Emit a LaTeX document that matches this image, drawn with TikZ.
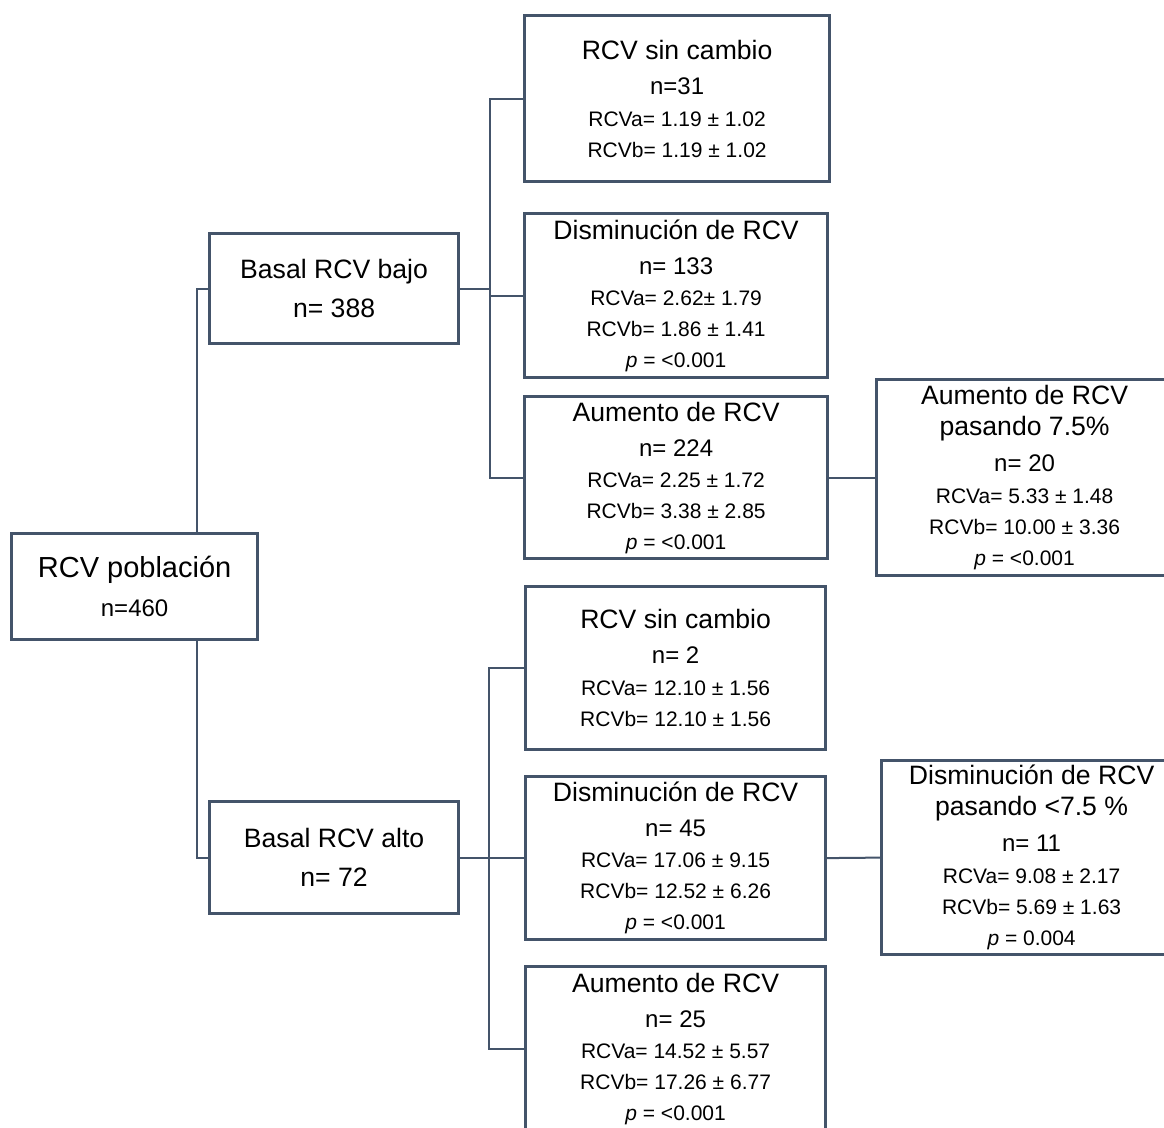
\documentclass[tikz,border=0pt]{standalone}
\usepackage{fontspec}
\setmainfont{Liberation Sans}
\definecolor{frame}{HTML}{44546A}
% type sizes for the three kinds of lines inside the boxes
\newcommand\ftitle{\fontsize{26.6}{31}\selectfont}
\newcommand\fcount{\fontsize{24}{31}\selectfont}
\newcommand\fstat{\fontsize{21}{31}\selectfont}
\begin{document}
\begin{tikzpicture}[x=1pt,y=-1pt,
  box/.style={draw=frame, line width=3.2pt, fill=white, rectangle,
    inner sep=0pt, anchor=north west, align=center, text=black,
    font=\fontsize{21}{31}\selectfont},
  headbox/.style={box, font=\fontsize{26.6}{39}\selectfont},
  conn/.style={draw=frame, line width=2pt}]
\path[use as bounding box, fill=white] (0,0) rectangle (1164,1127);
\clip (0,0) rectangle (1164,1127);

% root and the two baseline groups
\node[headbox, minimum width=246, minimum height=106] (root) at (10,532)
  {{\fontsize{29}{39}\selectfont RCV población}\\{\fcount n=460}};
\node[headbox, minimum width=249, minimum height=110] (bajo) at (208,232)
  {Basal RCV bajo\\n= 388};
\node[headbox, minimum width=249, minimum height=112] (alto) at (208,800)
  {Basal RCV alto\\n= 72};

% low baseline risk: outcomes
\node[box, minimum width=305, minimum height=166] (b1) at (523,14)
  {{\ftitle RCV sin cambio}\\[4pt]{\fcount n=31}\\[1pt]RCVa= 1.19 ± 1.02\\RCVb= 1.19 ± 1.02};
\node[box, minimum width=303, minimum height=164] (b2) at (523,212)
  {{\ftitle Disminución de RCV}\\[4pt]{\fcount n= 133}\\RCVa= 2.62± 1.79\\RCVb= 1.86 ± 1.41\\\textit{p} = <0.001};
\node[box, minimum width=303, minimum height=162] (b3) at (523,395)
  {{\ftitle Aumento de RCV}\\[4pt]{\fcount n= 224}\\RCVa= 2.25 ± 1.72\\RCVb= 3.38 ± 2.85\\\textit{p} = <0.001};
\node[box, minimum width=296, minimum height=196] (c) at (875,378)
  {{\ftitle Aumento de RCV}\\{\ftitle pasando 7.5\%}\\[5pt]{\fcount n= 20}\\[1pt]RCVa= 5.33 ± 1.48\\RCVb= 10.00 ± 3.36\\\textit{p} = <0.001};

% high baseline risk: outcomes
\node[box, minimum width=300, minimum height=163] (d1) at (524,585)
  {{\ftitle RCV sin cambio}\\[4pt]{\fcount n= 2}\\[1pt]RCVa= 12.10 ± 1.56\\RCVb= 12.10 ± 1.56};
\node[box, minimum width=300, minimum height=163] (d2) at (524,775)
  {{\ftitle Disminución de RCV}\\[4pt]{\fcount n= 45}\\RCVa= 17.06 ± 9.15\\RCVb= 12.52 ± 6.26\\\textit{p} = <0.001};
\node[box, minimum width=300, minimum height=164] (d3) at (524,965)
  {{\ftitle Aumento de RCV}\\[4pt]{\fcount n= 25}\\RCVa= 14.52 ± 5.57\\RCVb= 17.26 ± 6.77\\\textit{p} = <0.001};
\node[box, minimum width=300, minimum height=194] (e) at (880,759)
  {{\ftitle Disminución de RCV}\\{\ftitle pasando <7.5 \%}\\[5pt]{\fcount n= 11}\\[1pt]RCVa= 9.08 ± 2.17\\RCVb= 5.69 ± 1.63\\\textit{p} = 0.004};

% spines of the elbow connectors
\coordinate (s0) at (197,0);
\coordinate (s1) at (490,0);
\coordinate (s2) at (489,0);

\draw[conn] (root.north -| s0) |- (bajo.west);
\draw[conn] (root.south -| s0) |- (alto.west);

\draw[conn] (bajo.east) -- (bajo.east -| s1);
\draw[conn] (b1.west) -- (b1.west -| s1) -- (b3.west -| s1) -- (b3.west);
\draw[conn] (b2.west -| s1) -- (b2.west);
\draw[conn] (b3.east) -- (c.west);

\draw[conn] (alto.east) -- (alto.east -| s2);
\draw[conn] (d1.west) -- (d1.west -| s2) -- (d3.west -| s2) -- (d3.west);
\draw[conn] (d2.west -| s2) -- (d2.west);
\draw[conn] (d2.east) -- (e.west);
\end{tikzpicture}
\end{document}
